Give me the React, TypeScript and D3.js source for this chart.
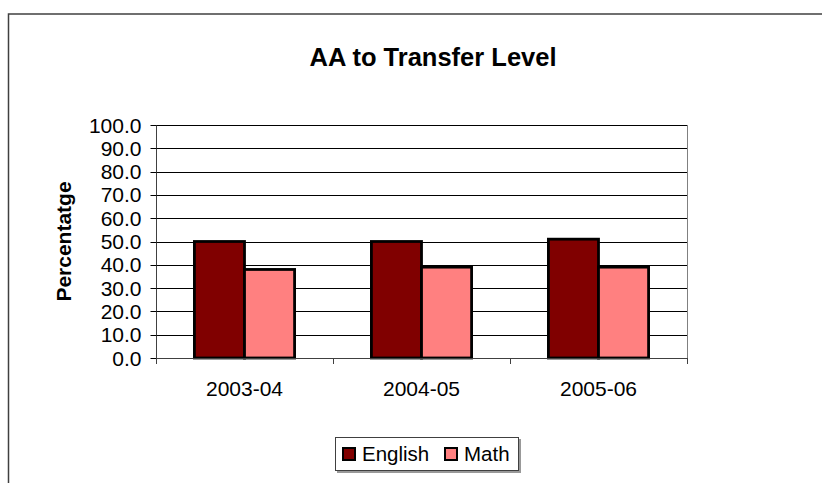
import React, { useEffect, useRef } from 'react';
import * as d3 from 'd3';

const years = ['2003-04', '2004-05', '2005-06'];
const seriesNames = ['English', 'Math'];
const english = [50, 50, 51];
const math = [38, 39, 39];
const yTicks = [0, 10, 20, 30, 40, 50, 60, 70, 80, 90, 100];
const seriesColors = ['#800000', '#FF8080'];

const App: React.FC = () => {
  const svgRef = useRef<SVGSVGElement>(null);

  useEffect(() => {
    if (!svgRef.current) return;
    const svg = d3.select(svgRef.current);
    svg.selectAll('*').remove();

    const width = 822;
    const height = 483;
    const font = 'Liberation Sans, Arial, sans-serif';

    // plot box
    const left = 156;
    const right = 687;
    const top = 125;
    const bottom = 358;

    svg.attr('width', width).attr('height', height);

    // outer chart border (runs off the right / bottom edge)
    svg.append('rect')
      .attr('x', 8.5)
      .attr('y', 14)
      .attr('width', 900)
      .attr('height', 600)
      .attr('fill', '#fff')
      .attr('stroke', '#404040')
      .attr('stroke-width', 1.5);

    const x0 = d3.scaleBand<string>().domain(years).range([left, right]).padding(0);
    const x1 = d3.scaleBand<string>()
      .domain(seriesNames)
      .range([0, x0.bandwidth() * 0.566])
      .padding(0);
    const groupOffset = (x0.bandwidth() - x0.bandwidth() * 0.566) / 2;
    const y = d3.scaleLinear().domain([0, 100]).range([bottom, top]);

    // title
    svg.append('text')
      .attr('x', 433)
      .attr('y', 66)
      .attr('text-anchor', 'middle')
      .style('font-family', font)
      .style('font-size', '25.5px')
      .style('font-weight', 'bold')
      .text('AA to Transfer Level');

    // gridlines
    svg.append('g')
      .selectAll('line')
      .data(yTicks)
      .join('line')
      .attr('x1', left)
      .attr('x2', right)
      .attr('y1', d => Math.round(y(d)) + 0.5)
      .attr('y2', d => Math.round(y(d)) + 0.5)
      .attr('stroke', '#000')
      .attr('stroke-width', 1);

    // right border of plot
    svg.append('line')
      .attr('x1', right + 0.5).attr('x2', right + 0.5)
      .attr('y1', top).attr('y2', bottom)
      .attr('stroke', '#808080');

    // y axis
    const yAxis = svg.append('g').attr('transform', `translate(${left + 0.5},0)`);
    yAxis.append('line')
      .attr('y1', top).attr('y2', bottom + 0.5)
      .attr('stroke', '#404040');
    yAxis.selectAll('line.tick')
      .data(yTicks)
      .join('line')
      .attr('class', 'tick')
      .attr('x1', -6).attr('x2', 0)
      .attr('y1', d => Math.round(y(d)) + 0.5)
      .attr('y2', d => Math.round(y(d)) + 0.5)
      .attr('stroke', '#000');
    yAxis.selectAll('text')
      .data(yTicks)
      .join('text')
      .attr('x', -15)
      .attr('y', d => y(d))
      .attr('dy', '0.36em')
      .attr('text-anchor', 'end')
      .style('font-family', font)
      .style('font-size', '21px')
      .text(d => d3.format('.1f')(d));

    // y label
    svg.append('text')
      .attr('transform', `translate(71,${(top + bottom) / 2}) rotate(-90)`)
      .attr('text-anchor', 'middle')
      .style('font-family', font)
      .style('font-size', '21px')
      .style('font-weight', 'bold')
      .text('Percentatge');

    // bars
    const values = [english, math];
    seriesNames.forEach((name, si) => {
      svg.append('g')
        .selectAll('rect')
        .data(years)
        .join('rect')
        .attr('x', (d) => (x0(d) as number) + groupOffset + (x1(name) as number))
        .attr('y', (d, i) => y(values[si][i]))
        .attr('width', x1.bandwidth())
        .attr('height', (d, i) => bottom - y(values[si][i]))
        .attr('fill', seriesColors[si])
        .attr('stroke', '#000')
        .attr('stroke-width', 2.8);
    });

    // x axis
    svg.append('line')
      .attr('x1', left).attr('x2', right + 1)
      .attr('y1', bottom + 0.5).attr('y2', bottom + 0.5)
      .attr('stroke', '#404040');
    const bounds = years.map(d => x0(d) as number).concat([right]);
    svg.append('g')
      .selectAll('line')
      .data(bounds)
      .join('line')
      .attr('x1', d => Math.round(d) + 0.5)
      .attr('x2', d => Math.round(d) + 0.5)
      .attr('y1', bottom)
      .attr('y2', bottom + 6)
      .attr('stroke', '#404040');
    svg.append('g')
      .selectAll('text')
      .data(years)
      .join('text')
      .attr('x', d => (x0(d) as number) + x0.bandwidth() / 2)
      .attr('y', 396)
      .attr('text-anchor', 'middle')
      .style('font-family', font)
      .style('font-size', '21px')
      .text(d => d);

    // legend
    const legend = svg.append('g');
    legend.append('rect')
      .attr('x', 337).attr('y', 439)
      .attr('width', 184).attr('height', 34)
      .attr('fill', '#999');
    legend.append('rect')
      .attr('x', 335.5).attr('y', 437.5)
      .attr('width', 183).attr('height', 33)
      .attr('fill', '#fff')
      .attr('stroke', '#404040');
    const legendX = [342, 444];
    seriesNames.forEach((name, i) => {
      legend.append('rect')
        .attr('x', legendX[i] + 1)
        .attr('y', 448)
        .attr('width', 12)
        .attr('height', 12)
        .attr('fill', seriesColors[i])
        .attr('stroke', '#000')
        .attr('stroke-width', 2);
      legend.append('text')
        .attr('x', legendX[i] + 20)
        .attr('y', 461)
        .style('font-family', font)
        .style('font-size', '20.5px')
        .text(name);
    });
  }, []);

  return (
    <svg
      ref={svgRef}
      style={{ position: 'absolute', left: 0, top: 0, display: 'block', background: '#fff' }}
    />
  );
};

export default App;
